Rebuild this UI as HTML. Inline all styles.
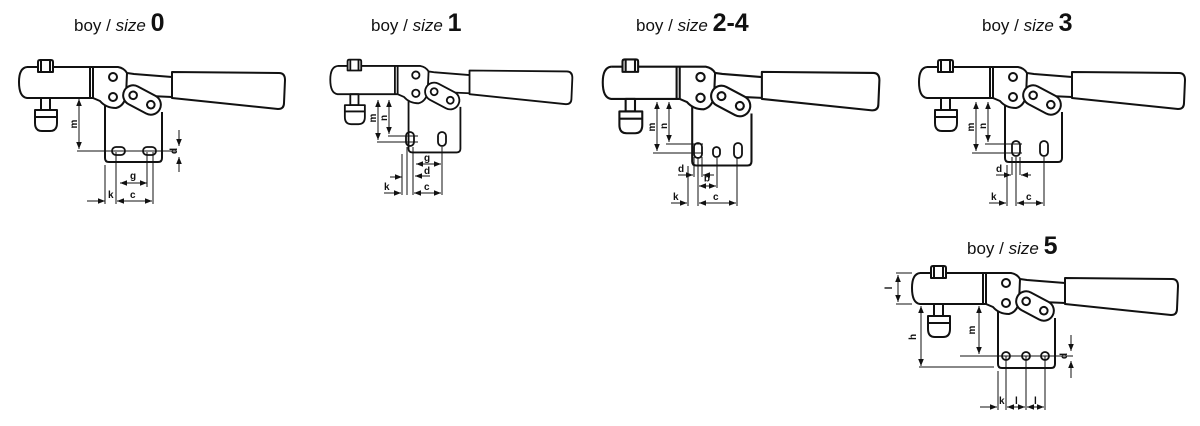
<!DOCTYPE html>
<html><head><meta charset="utf-8"><style>
html,body{margin:0;padding:0;background:#fff;}
svg{display:block;}
.t{font-family:"Liberation Sans",sans-serif;font-size:17px;fill:#111;}
.s{font-style:italic;}
.n{font-weight:bold;font-size:25px;}
.l{font-family:"Liberation Sans",sans-serif;font-size:10px;font-weight:bold;fill:#111;}
</style></head><body>
<svg width="1200" height="426" viewBox="0 0 1200 426" xmlns="http://www.w3.org/2000/svg">
<defs>
<marker id="a" viewBox="0 0 10 10" refX="10" refY="5" markerWidth="7" markerHeight="7" orient="auto-start-reverse"><path d="M0,1 L10,5 L0,9 Z" fill="#111"/></marker>
<g id="clamp" fill="none" stroke="#111" stroke-width="2" stroke-linejoin="round">
  <path d="M27,67 H118 Q124,68 127,73 L134,74 L172,77"/>
  <path d="M27,67 Q19,68 19,82 Q19,97 27,98 H93"/>
  <line x1="90" y1="67" x2="90" y2="98"/><line x1="93" y1="67" x2="93" y2="98"/>
  <path d="M127,73 L126,96 Q124,106 116,108 Q106,108 100,101 L93,98"/>
  <path d="M105,105 V158 Q105,162 109,162 H158 Q162,162 162,158 V112"/>
  <path d="M172,72 L279,73 Q285,73 285,80 L284,103 Q284,109 278,109 L172,98 Z"/>
  <line x1="150" y1="96" x2="172" y2="97"/>
  <g transform="translate(142,100) rotate(28)"><rect x="-20" y="-10" width="40" height="20" rx="10" fill="#fff"/><circle cx="-10" cy="0" r="3.8"/><circle cx="10" cy="0" r="3.8"/></g>
  <circle cx="113" cy="77" r="4"/><circle cx="113" cy="97" r="4"/>
  <path d="M38,72 V62 Q38,60 40,60 H51 Q53,60 53,62 V72 Z" fill="#fff"/>
  <line x1="41" y1="60" x2="41" y2="72"/><line x1="50" y1="60" x2="50" y2="72"/>
  <rect x="41" y="98" width="9" height="12"/>
  <path d="M35,110 H57 V123 Q57,131 50,131 H42 Q35,131 35,123 Z"/>
  <line x1="35" y1="117" x2="57" y2="117"/>
</g>
</defs>

<text class="t" x="74" y="31">boy / <tspan class="s">size</tspan> <tspan class="n">0</tspan></text>
<text class="t" x="371" y="31">boy / <tspan class="s">size</tspan> <tspan class="n">1</tspan></text>
<text class="t" x="636" y="31">boy / <tspan class="s">size</tspan> <tspan class="n">2-4</tspan></text>
<text class="t" x="982" y="31">boy / <tspan class="s">size</tspan> <tspan class="n">3</tspan></text>
<text class="t" x="967" y="254">boy / <tspan class="s">size</tspan> <tspan class="n">5</tspan></text>

<!-- size 0 -->
<use href="#clamp"/>
<g stroke="#111" stroke-width="1" fill="none">
  <rect x="112" y="147" width="13" height="8" rx="4" stroke-width="1.8"/>
  <rect x="143" y="147" width="13" height="8" rx="4" stroke-width="1.8"/>
  <line x1="77" y1="151" x2="176" y2="151"/>
  <line x1="79" y1="99" x2="79" y2="149" marker-start="url(#a)" marker-end="url(#a)"/>
  <line x1="179" y1="130" x2="179" y2="146" marker-end="url(#a)"/>
  <line x1="179" y1="172" x2="179" y2="157" marker-end="url(#a)"/>
  <line x1="105" y1="165" x2="105" y2="204"/>
  <line x1="116" y1="152" x2="116" y2="204"/>
  <line x1="147" y1="152" x2="147" y2="187"/>
  <line x1="153" y1="152" x2="153" y2="204"/>
  <line x1="120" y1="183" x2="147" y2="183" marker-start="url(#a)" marker-end="url(#a)"/>
  <line x1="87" y1="201" x2="105" y2="201" marker-end="url(#a)"/>
  <line x1="117" y1="201" x2="152" y2="201" marker-start="url(#a)" marker-end="url(#a)"/>
</g>
<text class="l" text-anchor="middle" transform="translate(77,124) rotate(-90)">m</text>
<text class="l" x="130" y="179">g</text>
<text class="l" x="108" y="198">k</text>
<text class="l" x="130" y="198">c</text>
<text class="l" text-anchor="middle" transform="translate(177,151) rotate(-90)">d</text>

<!-- size 1 -->
<use href="#clamp" transform="translate(313,5) scale(0.91)"/>
<g stroke="#111" stroke-width="1" fill="none">
  <rect x="406" y="132" width="8" height="14" rx="4" stroke-width="1.8"/>
  <rect x="438" y="132" width="8" height="14" rx="4" stroke-width="1.8"/>
  <line x1="377" y1="142" x2="418" y2="142"/><line x1="388" y1="136" x2="418" y2="136"/>
  <line x1="378" y1="100" x2="378" y2="140" marker-start="url(#a)" marker-end="url(#a)"/>
  <line x1="389" y1="100" x2="389" y2="134" marker-start="url(#a)" marker-end="url(#a)"/>
  <line x1="402" y1="154" x2="402" y2="195"/><line x1="407" y1="147" x2="407" y2="195"/>
  <line x1="413" y1="147" x2="413" y2="195"/><line x1="442" y1="147" x2="442" y2="195"/>
  <line x1="416" y1="164" x2="441" y2="164" marker-start="url(#a)" marker-end="url(#a)"/>
  <line x1="430" y1="176" x2="415" y2="176" marker-end="url(#a)"/>
  <line x1="390" y1="177" x2="402" y2="177" marker-end="url(#a)"/>
  <line x1="384" y1="193" x2="401" y2="193" marker-end="url(#a)"/>
  <line x1="414" y1="193" x2="441" y2="193" marker-start="url(#a)" marker-end="url(#a)"/>
</g>
<text class="l" text-anchor="middle" transform="translate(376,118) rotate(-90)">m</text>
<text class="l" text-anchor="middle" transform="translate(387,118) rotate(-90)">n</text>
<text class="l" x="424" y="161">g</text>
<text class="l" x="424" y="174">d</text>
<text class="l" x="384" y="190">k</text>
<text class="l" x="424" y="190">c</text>

<!-- size 2-4 -->
<use href="#clamp" transform="translate(583,-3) scale(1.04)"/>
<g stroke="#111" stroke-width="1" fill="none">
  <rect x="694" y="143" width="8" height="15" rx="4" stroke-width="1.8"/>
  <rect x="713" y="147" width="7" height="10" rx="3.5" stroke-width="1.8"/>
  <rect x="734" y="143" width="8" height="15" rx="4" stroke-width="1.8"/>
  <line x1="653" y1="153" x2="703" y2="153"/><line x1="666" y1="144" x2="703" y2="144"/>
  <line x1="657" y1="102" x2="657" y2="151" marker-start="url(#a)" marker-end="url(#a)"/>
  <line x1="669" y1="102" x2="669" y2="142" marker-start="url(#a)" marker-end="url(#a)"/>
  <line x1="688" y1="166" x2="688" y2="206"/><line x1="694" y1="157" x2="694" y2="177"/>
  <line x1="698" y1="157" x2="698" y2="206"/><line x1="702" y1="157" x2="702" y2="177"/>
  <line x1="717" y1="158" x2="717" y2="188"/><line x1="737" y1="158" x2="737" y2="206"/>
  <line x1="678" y1="175" x2="693" y2="175" marker-end="url(#a)"/>
  <line x1="714" y1="175" x2="703" y2="175" marker-end="url(#a)"/>
  <line x1="699" y1="186" x2="716" y2="186" marker-start="url(#a)" marker-end="url(#a)"/>
  <line x1="671" y1="203" x2="687" y2="203" marker-end="url(#a)"/>
  <line x1="699" y1="203" x2="736" y2="203" marker-start="url(#a)" marker-end="url(#a)"/>
</g>
<text class="l" text-anchor="middle" transform="translate(655,127) rotate(-90)">m</text>
<text class="l" text-anchor="middle" transform="translate(667,126) rotate(-90)">n</text>
<text class="l" x="678" y="172">d</text>
<text class="l" x="704" y="184" transform="rotate(180 707 180)">g</text>
<text class="l" x="673" y="200">k</text>
<text class="l" x="713" y="200">c</text>

<!-- size 3 -->
<use href="#clamp" transform="translate(900,0)"/>
<g stroke="#111" stroke-width="1" fill="none">
  <rect x="1012" y="141" width="8" height="15" rx="4" stroke-width="1.8"/>
  <rect x="1040" y="141" width="8" height="15" rx="4" stroke-width="1.8"/>
  <line x1="972" y1="153" x2="1022" y2="153"/><line x1="985" y1="144" x2="1022" y2="144"/>
  <line x1="976" y1="102" x2="976" y2="151" marker-start="url(#a)" marker-end="url(#a)"/>
  <line x1="988" y1="102" x2="988" y2="142" marker-start="url(#a)" marker-end="url(#a)"/>
  <line x1="1007" y1="165" x2="1007" y2="206"/><line x1="1012" y1="157" x2="1012" y2="175"/>
  <line x1="1016" y1="157" x2="1016" y2="206"/><line x1="1020" y1="157" x2="1020" y2="175"/>
  <line x1="1044" y1="157" x2="1044" y2="206"/>
  <line x1="996" y1="175" x2="1011" y2="175" marker-end="url(#a)"/>
  <line x1="1031" y1="175" x2="1021" y2="175" marker-end="url(#a)"/>
  <line x1="989" y1="203" x2="1006" y2="203" marker-end="url(#a)"/>
  <line x1="1017" y1="203" x2="1043" y2="203" marker-start="url(#a)" marker-end="url(#a)"/>
</g>
<text class="l" text-anchor="middle" transform="translate(974,127) rotate(-90)">m</text>
<text class="l" text-anchor="middle" transform="translate(986,126) rotate(-90)">n</text>
<text class="l" x="996" y="172">d</text>
<text class="l" x="991" y="200">k</text>
<text class="l" x="1026" y="200">c</text>

<!-- size 5 -->
<use href="#clamp" transform="translate(893,206)"/>
<g stroke="#111" stroke-width="1" fill="none">
  <circle cx="1006" cy="356" r="4" stroke-width="1.8"/>
  <circle cx="1026" cy="356" r="4" stroke-width="1.8"/>
  <circle cx="1045" cy="356" r="4" stroke-width="1.8"/>
  <line x1="960" y1="356" x2="1073" y2="356"/>
  <line x1="896" y1="273" x2="912" y2="273"/><line x1="896" y1="304" x2="912" y2="304"/>
  <line x1="898" y1="275" x2="898" y2="302" marker-start="url(#a)" marker-end="url(#a)"/>
  <line x1="921" y1="306" x2="921" y2="366" marker-start="url(#a)" marker-end="url(#a)"/>
  <line x1="919" y1="367" x2="994" y2="367"/>
  <line x1="979" y1="306" x2="979" y2="354" marker-start="url(#a)" marker-end="url(#a)"/>
  <line x1="1071" y1="335" x2="1071" y2="351" marker-end="url(#a)"/>
  <line x1="1071" y1="378" x2="1071" y2="361" marker-end="url(#a)"/>
  <line x1="998" y1="371" x2="998" y2="410"/><line x1="1006" y1="356" x2="1006" y2="410"/>
  <line x1="1026" y1="356" x2="1026" y2="410"/><line x1="1045" y1="356" x2="1045" y2="410"/>
  <line x1="980" y1="407" x2="997" y2="407" marker-end="url(#a)"/>
  <line x1="1007" y1="407" x2="1025" y2="407" marker-start="url(#a)" marker-end="url(#a)"/>
  <line x1="1027" y1="407" x2="1044" y2="407" marker-start="url(#a)" marker-end="url(#a)"/>
</g>
<text class="l" text-anchor="middle" transform="translate(892,288) rotate(-90)">l</text>
<text class="l" text-anchor="middle" transform="translate(916,337) rotate(-90)">h</text>
<text class="l" text-anchor="middle" transform="translate(975,330) rotate(-90)">m</text>
<text class="l" text-anchor="middle" transform="translate(1067,356) rotate(-90)">d</text>
<text class="l" x="999" y="404">k</text>
<text class="l" x="1015" y="404">l</text>
<text class="l" x="1034" y="404">l</text>
</svg>
</body></html>
